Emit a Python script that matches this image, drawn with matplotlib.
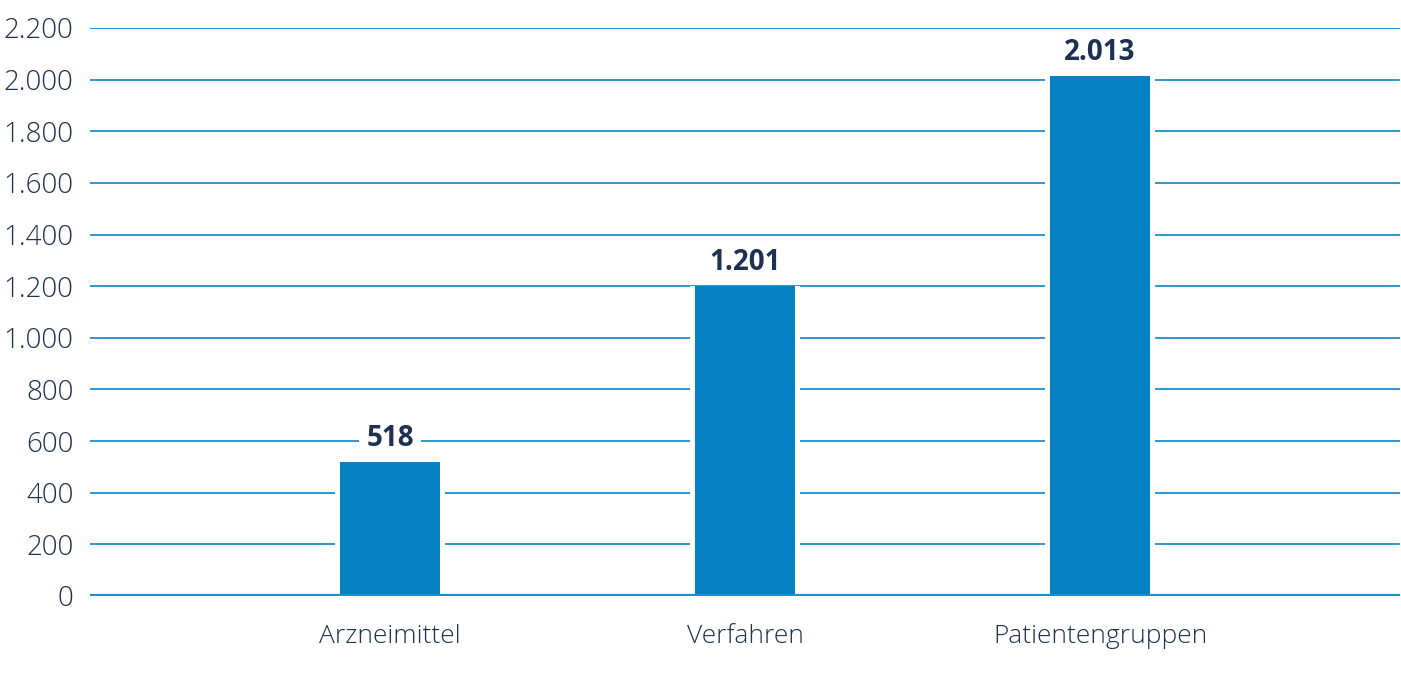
import matplotlib
matplotlib.use("Agg")
import matplotlib.pyplot as plt

categories = ["Arzneimittel", "Verfahren", "Patientengruppen"]
values = [518, 1201, 2013]
yticks = [0, 200, 400, 600, 800, 1000, 1200, 1400, 1600, 1800, 2000, 2200]

def de(n):
    return f"{n:,}".replace(",", ".")

bar_color = "#0581C4"
text_color = "#1F3150"

plt.rcParams['font.family'] = ['Open Sans', 'DejaVu Sans']

fig = plt.figure(figsize=(14.01, 7.0), dpi=100)
ax = fig.add_axes([90/1401, 1 - 596/700, (1400-90)/1401, (596-28)/700])

x = list(range(len(categories)))
ax.set_ylim(0, 2200)
ax.set_xlim(-0.845, 2.845)
for y in yticks[1:]:
    ax.axhline(y, color="#1E8DCB", lw=1.3, zorder=1)
ax.axhline(0, color="#1E8DCB", lw=3, zorder=4)
# white gap around bars
ax.bar(x, values, width=0.31, color="white", linewidth=0, zorder=2)
ax.bar(x, values, width=0.28, color=bar_color, linewidth=0, zorder=3)
for xi, v in zip(x, values):
    ax.text(xi, v + 35, de(v), ha="center", va="bottom", fontsize=20, fontweight="bold",
            color=text_color, zorder=5,
            bbox=dict(facecolor="white", edgecolor="none", pad=5))

ax.set_yticks(yticks)
ax.set_yticklabels([de(t) for t in yticks], fontsize=20, color=text_color, fontweight="light")
ax.set_xticks(x)
ax.set_xticklabels(categories, fontsize=19, color=text_color, fontweight="light")
ax.tick_params(axis="y", length=0, pad=12)
ax.tick_params(axis="x", length=0, pad=20)
for s in ax.spines.values():
    s.set_visible(False)
ax.patch.set_visible(False)

fig.savefig("out.png", dpi=100, facecolor="white")
